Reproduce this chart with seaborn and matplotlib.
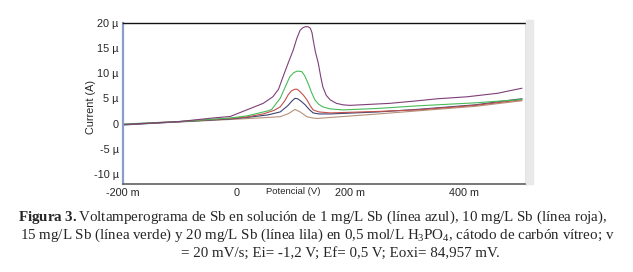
import matplotlib
matplotlib.use("Agg")
import matplotlib.pyplot as plt
import matplotlib.ticker as mticker
from matplotlib.patches import Rectangle
import seaborn as sns
import pandas as pd

# ---- data (potential in mV, current in uA) ----
lila_x = [-200, -100, -41, -11, 18, 47, 64, 74, 82, 91, 100, 106, 112, 117, 121, 126, 130, 133, 135, 139, 144, 148, 152, 158, 165, 176, 188, 200, 270, 318, 353, 406, 460, 494, 503]
lila_y = [-0.2, 0.4, 1.1, 1.4, 2.7, 4.0, 5.3, 6.8, 9.3, 12.0, 14.6, 16.8, 18.5, 19.0, 19.2, 19.2, 18.9, 18.0, 16.6, 14.2, 12.0, 9.5, 7.3, 5.6, 4.7, 4.0, 3.7, 3.6, 4.0, 4.5, 4.9, 5.3, 6.0, 6.8, 7.0]

verde_x = [-200, -100, -11, 18, 55, 62, 66, 77, 86, 94, 101, 107, 115, 120, 126, 132, 138, 145, 152, 165, 188, 250, 318, 420, 494, 503]
verde_y = [-0.1, 0.4, 1.1, 1.5, 2.5, 2.8, 3.4, 5.0, 7.3, 9.3, 10.1, 10.4, 10.3, 9.5, 8.0, 6.2, 4.7, 3.8, 3.3, 2.9, 2.7, 3.0, 3.5, 4.1, 4.7, 4.8]

roja_x = [-200, -100, -11, 18, 47, 66, 77, 85, 91, 97, 103, 107, 112, 118, 124, 130, 135, 145, 165, 250, 318, 420, 494, 503]
roja_y = [-0.2, 0.4, 1.0, 1.3, 1.9, 2.6, 3.3, 4.5, 5.7, 6.5, 6.8, 6.8, 6.3, 5.6, 4.7, 3.5, 2.7, 2.3, 2.1, 2.4, 2.7, 3.6, 4.6, 4.7]

azul_x = [-200, -100, -11, 18, 55, 77, 90, 98, 103, 108, 115, 121, 128, 135, 145, 165, 250, 318, 420, 494, 503]
azul_y = [-0.3, 0.35, 0.9, 1.2, 1.7, 2.3, 3.5, 4.5, 5.0, 4.9, 4.3, 3.7, 2.8, 2.1, 1.9, 1.9, 2.3, 2.8, 3.7, 4.8, 4.9]

blanco_x = [-200, -100, -11, 40, 77, 92, 103, 112, 124, 134, 142, 165, 250, 318, 420, 494, 503]
blanco_y = [-0.2, 0.3, 0.8, 1.1, 1.35, 2.0, 2.8, 2.3, 1.35, 1.1, 1.0, 1.2, 1.9, 2.5, 3.4, 4.4, 4.5]

series_names = ["lila", "verde", "roja", "azul", "blanco"]
series_colors = ["#7e3f78", "#48bb58", "#c2504a", "#3d4474", "#b5917a"]

ytick_vals = [-10, -5, 0, 5, 10, 15, 20]
ytick_labels = ["-10 µ", "-5 µ", "0", "5 µ", "10 µ", "15 µ", "20 µ"]
xtick_vals = [-200, 0, 200, 400]
xtick_labels = ["-200 m", "0", "200 m", "400 m"]

caption1 = r"$\bf{Figura\ 3.}$Voltamperograma de Sb en solución de 1 mg/L Sb (línea azul), 10 mg/L Sb (línea roja),"
caption2 = r"15 mg/L Sb (línea verde) y 20 mg/L Sb (línea lila) en 0,5 mol/L H$_3$PO$_4$, cátodo de carbón vítreo; v"
caption3 = "= 20 mV/s; Ei= -1,2 V; Ef= 0,5 V; Eoxi= 84,957 mV."

# ---- build long table ----
frames = []
for name, xs, ys in zip(series_names,
                        [lila_x, verde_x, roja_x, azul_x, blanco_x],
                        [lila_y, verde_y, roja_y, azul_y, blanco_y]):
    frames.append(pd.DataFrame({"E": xs, "I": ys, "serie": name}))
df = pd.concat(frames, ignore_index=True)

sns.set_style("white")
plt.rcParams["font.family"] = ["Liberation Sans", "DejaVu Sans"]
plt.rcParams["mathtext.fontset"] = "custom"
plt.rcParams["mathtext.rm"] = "Liberation Serif"
plt.rcParams["mathtext.it"] = "Liberation Serif:italic"
plt.rcParams["mathtext.bf"] = "Liberation Serif:bold"

fig = plt.figure(figsize=(6.33, 2.72), dpi=100)
ax = fig.add_axes([123/633, 1-184/272, (526-123)/633, (184-22.7)/272])

# gray frame strip right of the plot
fig.patches.append(Rectangle((526/633, 1-184/272), 7/633, (184-20)/272,
                             transform=fig.transFigure, color="#e9e9e9", zorder=0))

sns.lineplot(data=df, x="E", y="I", hue="serie", hue_order=series_names[::-1],
             palette=dict(zip(series_names, series_colors)), sort=False,
             estimator=None, linewidth=0.8, legend=False, ax=ax)

ax.set_xlim(-200, 510)
ax.set_ylim(-12, 20)
ax.set_xticks(xtick_vals)
ax.set_xticklabels(xtick_labels)
ax.set_yticks(ytick_vals)
ax.set_yticklabels(ytick_labels)
ax.yaxis.set_minor_locator(mticker.MultipleLocator(2.5))
ax.tick_params(axis="x", length=0, pad=3, labelsize=7.8)
ax.tick_params(axis="y", which="major", length=3, direction="in", color="#9fb0d0", pad=3, labelsize=7.8)
ax.tick_params(axis="y", which="minor", length=2, direction="in", color="#b8c6e0")
ax.set_xlabel("")
ax.set_ylabel("")

ax.spines["left"].set_color("#8a9cc8")
ax.spines["left"].set_linewidth(1.6)
ax.spines["top"].set_color("#111111")
ax.spines["top"].set_linewidth(1.0)
ax.spines["right"].set_color("#707070")
ax.spines["right"].set_linewidth(1.0)
ax.spines["bottom"].set_color("#606060")
ax.spines["bottom"].set_linewidth(1.2)

fig.text(293/633, 1-192/272, "Potencial (V)", ha="center", va="center", fontsize=6.8)
fig.text(91/633, 1-107/272, "Current (A)", ha="center", va="center", rotation=90, fontsize=7.8)

capfont = dict(family="Liberation Serif", fontsize=10.8, va="center", ha="center")
fig.text(312.5/633, 1-217/272, caption1, **capfont)
fig.text(317/633, 1-235/272, caption2, **capfont)
fig.text(340/633, 1-253/272, caption3, **capfont)

fig.savefig("out.png", dpi=100)
